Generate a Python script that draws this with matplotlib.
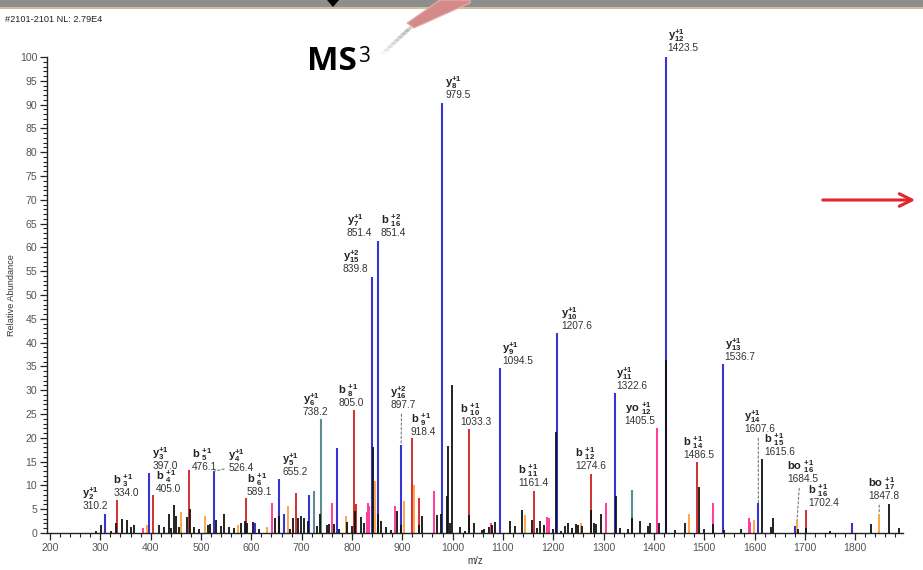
import numpy as np
import matplotlib
matplotlib.use('Agg')
import matplotlib.pyplot as plt
from matplotlib.ticker import MultipleLocator
from matplotlib.patches import Polygon, Rectangle

plt.rcParams['font.family'] = 'Liberation Sans'
plt.rcParams['mathtext.fontset'] = 'custom'
plt.rcParams['mathtext.rm'] = 'Liberation Sans'
plt.rcParams['mathtext.bf'] = 'Liberation Sans:bold'
plt.rcParams['mathtext.it'] = 'Liberation Sans:italic'

# spectrum peaks (m/z, relative abundance), grouped by colour
blue_mz = [310.2, 397.0, 526.4, 608, 655.2, 664, 715, 770, 839.8, 851.4, 897.7,
           979.5, 1094.5, 1207.6, 1322.6, 1423.5, 1536.7, 1607.6, 1680, 1793]
blue_int = [4.0, 12.6, 13.0, 2.2, 11.3, 3.9, 7.9, 17.9, 53.8, 61.4, 18.5,
            90.4, 34.7, 42.0, 29.4, 99.9, 35.5, 6.3, 1.5, 2.1]

red_mz = [334.0, 405.0, 476.1, 589.1, 689, 805.0, 808, 918.4, 933, 1033.3,
          1161.4, 1274.6, 1486.5, 1702.4]
red_int = [6.9, 8.0, 13.2, 7.4, 8.5, 25.8, 6.1, 20.0, 7.3, 21.8,
           8.8, 12.4, 15.0, 4.8]

pink_mz = [384, 642, 761, 829, 832, 834.5, 886, 963, 1076, 1188, 1191, 1305,
           1405.5, 1407, 1518, 1588, 1591]
pink_int = [1.1, 6.4, 6.4, 4.5, 6.2, 5.7, 5.6, 8.9, 2.1, 3.3, 3.1, 6.4,
            22.0, 6.1, 6.3, 3.1, 2.4]

orange_mz = [392, 460, 508, 574, 631, 672, 788, 846, 903, 923, 1144, 1255,
             1470, 1598, 1684.5, 1847.8]
orange_int = [1.7, 4.5, 3.5, 1.7, 1.2, 5.6, 3.5, 11.0, 6.8, 10.1, 3.8, 2.0,
              3.9, 2.7, 2.7, 4.0]

teal_mz = [725, 738.2, 1357]
teal_int = [8.8, 23.9, 9.0]

black_mz = [291, 301, 321, 332, 343, 352, 360, 367, 416, 426, 436, 441, 446, 451,
            456, 473, 479, 487, 497, 513, 518, 529, 539, 546, 556, 566, 579, 587,
            592, 603, 615, 648, 656, 677, 683, 692, 698, 705, 712, 730, 736, 750,
            755, 765, 775, 790, 800, 807, 817, 824, 842, 851, 858, 867, 877, 889,
            898, 934, 940, 968, 976, 988, 990, 994, 998, 1015, 1025, 1032, 1042,
            1058, 1062, 1072, 1078, 1085, 1114, 1124, 1138, 1158, 1167, 1174,
            1181, 1200, 1206, 1215, 1223, 1230, 1237, 1245, 1249, 1258, 1275,
            1280, 1285, 1295, 1325, 1332, 1348, 1357, 1372, 1388, 1392, 1410,
            1423.5, 1441, 1462, 1489, 1499, 1518, 1540, 1573, 1615.6, 1632, 1636,
            1687, 1702, 1750, 1832, 1867, 1887]
black_int = [0.5, 1.7, 0.5, 2.1, 2.9, 2.8, 1.3, 1.7, 1.7, 1.2, 3.9, 1.0, 5.8, 3.6,
             1.2, 3.3, 5.0, 1.2, 0.9, 1.7, 1.9, 2.7, 1.5, 3.9, 1.2, 1.1, 2.0, 2.5,
             2.0, 2.4, 0.9, 3.1, 3.6, 0.9, 3.1, 3.1, 3.6, 3.2, 2.6, 1.5, 3.9, 1.7,
             1.9, 1.8, 0.9, 2.4, 1.5, 4.7, 3.3, 2.2, 18.0, 4.0, 2.6, 1.2, 0.7, 4.7,
             1.7, 1.7, 3.6, 3.8, 4.0, 7.8, 18.3, 2.2, 31.0, 1.3, 0.5, 3.8, 2.2,
             0.6, 0.8, 1.2, 1.7, 2.4, 2.5, 1.5, 4.8, 2.7, 1.1, 2.6,
             1.7, 0.8, 21.3, 0.4, 1.5, 2.0, 1.0, 1.9, 1.7, 1.5, 4.9,
             2.2, 1.9, 4.0, 7.7, 1.0, 0.8, 3.2, 2.6, 1.5, 2.2, 2.0,
             36.3, 0.7, 2.0, 9.6, 0.8, 1.8, 0.7, 0.8, 15.5, 1.2, 3.1,
             0.9, 1.0, 0.5, 1.8, 6.1, 1.0]

# annotated fragment ions: m/z, abundance, ion, index, charge
ion_mz = [310.2, 334.0, 397.0, 405.0, 476.1, 526.4, 589.1, 655.2, 738.2, 805.0,
          839.8, 851.4, 851.4, 897.7, 918.4, 979.5, 1033.3, 1094.5, 1161.4,
          1207.6, 1274.6, 1322.6, 1405.5, 1423.5, 1486.5, 1536.7, 1607.6,
          1615.6, 1684.5, 1702.4, 1847.8]
ion_int = [4.0, 6.9, 12.6, 8.0, 13.2, 13.0, 7.4, 11.3, 23.9, 25.8,
           53.8, 61.4, 61.4, 18.5, 20.0, 90.4, 21.8, 34.7, 8.8,
           42.0, 12.4, 29.4, 22.0, 99.9, 15.0, 35.5, 6.3,
           15.5, 2.7, 4.8, 4.0]
ion_type = ['y', 'b', 'y', 'b', 'b', 'y', 'b', 'y', 'y', 'b',
            'y', 'y', 'b', 'y', 'b', 'y', 'b', 'y', 'b',
            'y', 'b', 'y', 'yo', 'y', 'b', 'y', 'y',
            'b', 'bo', 'b', 'bo']
ion_num = [2, 3, 3, 4, 5, 4, 6, 5, 6, 8,
           15, 7, 16, 16, 9, 8, 10, 9, 11,
           10, 12, 11, 12, 12, 14, 13, 14,
           15, 16, 16, 17]
ion_charge = ['+1', '+1', '+1', '+1', '+1', '+1', '+1', '+1', '+1', '+1',
              '+2', '+1', '+2', '+2', '+1', '+1', '+1', '+1', '+1',
              '+1', '+1', '+1', '+1', '+1', '+1', '+1', '+1',
              '+1', '+1', '+1', '+1']

# label placement (pixels from the peak top) and leader lines
lab_dx = [-23, -4, 3, 3, 3, 14, 1, 3, -18, -16,
          -29, -31, 3, -11, -1, 3, -9, 2, -16,
          4, -16, 1, -32, 2, -14, 2, -14,
          2, -10, 2, -11]
lab_dy = [3, 2, 2, 1, -2, -2, 1, 2, 2, 2,
          3, 3, 3, 35, 1, 3, 2, 2, 3,
          2, 3, 2, 2, 4, 2, 2, 69,
          2, 36, 2, 13]
leader = {5: (0, 0.5), 13: (0.45, 0), 26: (0.45, 0), 28: (0.4, 0), 30: (0.35, 0)}

BLUE = '#3535d4'
RED = '#d23030'
PINK = '#ff3c98'
ORANGE = '#ffa54a'
TEAL = '#5e8c8c'
BLACK = '#111111'

fig = plt.figure(figsize=(9.23, 5.70), dpi=100)
ax = fig.add_axes([47/923, 1-533/570, (903-47)/923, (533-57)/570])

ax.vlines(blue_mz, 0, blue_int, colors=BLUE, lw=1.5, zorder=2)
ax.vlines(red_mz, 0, red_int, colors=RED, lw=1.4, zorder=2)
ax.vlines(pink_mz, 0, pink_int, colors=PINK, lw=1.4, zorder=2)
ax.vlines(orange_mz, 0, orange_int, colors=ORANGE, lw=1.4, zorder=2)
ax.vlines(teal_mz, 0, teal_int, colors=TEAL, lw=1.5, zorder=2)
ax.vlines(black_mz, 0, black_int, colors=BLACK, lw=1.3, zorder=3)

ax.set_xlim(194, 1895)
ax.set_ylim(0, 100)
for s in ['top', 'right']:
    ax.spines[s].set_visible(False)
for s in ['left', 'bottom']:
    ax.spines[s].set_linewidth(1.0)
    ax.spines[s].set_color('#222222')

ax.xaxis.set_major_locator(MultipleLocator(100))
ax.xaxis.set_minor_locator(MultipleLocator(20))
ax.yaxis.set_major_locator(MultipleLocator(5))
ax.yaxis.set_minor_locator(MultipleLocator(1))
ax.set_xticks(np.arange(200, 1900, 100))
ax.tick_params(which='major', length=5, width=0.9, color='#222222',
               labelsize=7.6, labelcolor='#555555', pad=2)
ax.tick_params(which='minor', length=3, width=0.8, color='#222222')

ax.set_xlabel('m/z', fontsize=7, color='#333333', labelpad=2)
ax.set_ylabel('Relative Abundance', fontsize=6.6, color='#333333', labelpad=3)

def ion_tex(t, n, c):
    if t == 'y':
        return r'$\mathbf{y}_{\mathbf{%d}}^{\mathbf{%s}}$' % (n, c)
    return r'$\mathbf{%s}\ {}_{\mathbf{%d}}^{\mathbf{%s}}$' % (t, n, c)

for i in range(len(ion_mz)):
    x, y = ion_mz[i], ion_int[i]
    dx, dy = lab_dx[i], lab_dy[i]
    if i in leader:
        ax.annotate('%.1f' % x, xy=(x, y), xytext=(dx, dy),
                    textcoords='offset pixels', ha='left', va='bottom',
                    fontsize=7.3, color='#333333', zorder=5,
                    arrowprops=dict(arrowstyle='-', color='#777777', lw=0.8,
                                    ls=(0, (2, 2)), shrinkA=1, shrinkB=0,
                                    relpos=leader[i]))
    else:
        ax.annotate('%.1f' % x, xy=(x, y), xytext=(dx, dy),
                    textcoords='offset pixels', ha='left', va='bottom',
                    fontsize=7.3, color='#333333', zorder=5)
    ax.annotate(ion_tex(ion_type[i], ion_num[i], ion_charge[i]), xy=(x, y),
                xytext=(dx, dy + 9), textcoords='offset pixels',
                ha='left', va='bottom', fontsize=8, color='#222222', zorder=5)

# slide decorations around the spectrum
ov = fig.add_axes([0, 0, 1, 1], zorder=10)
ov.set_xlim(0, 923)
ov.set_ylim(570, 0)
ov.axis('off')
ov.add_patch(Rectangle((0, 0), 923, 7, color='#8e8e8e', lw=0))
ov.add_patch(Rectangle((0, 6.5), 923, 2, color='#cdbf9c', lw=0))
ov.add_patch(Polygon([(327, 0), (339, 0), (333, 7)], closed=True, color='black', lw=0))
for k in range(8):
    ov.add_patch(Polygon([(410 - k * 3.4, 26 + k * 3.2), (414 - k * 3.4, 27 + k * 3.2),
                          (411 - k * 3.4 - 3.4, 29 + k * 3.2 + 3.2),
                          (407 - k * 3.4 - 3.4, 28 + k * 3.2 + 3.2)],
                         closed=True, color='#9a9a9a', alpha=0.45 - k * 0.05, lw=0))
ov.add_patch(Polygon([(440, 0), (470, 0), (470, 3), (414, 28), (407, 23)],
                     closed=True, facecolor='#d48a8a', edgecolor='#e8b0b0', lw=0.8))
ov.text(307, 70, 'MS', fontsize=24, fontweight='bold', family='Open Sans',
        color='black', ha='left', va='baseline')
ov.text(358, 62, '3', fontsize=15, family='Open Sans', color='black',
        ha='left', va='baseline')
ov.text(5, 22, '#2101-2101 NL: 2.79E4', fontsize=6.6, color='#222222',
        ha='left', va='baseline')
ov.annotate('', xy=(918, 200), xytext=(820, 200),
            arrowprops=dict(arrowstyle='->,head_length=0.9,head_width=0.45',
                            color='#e3242b', lw=2.2))

fig.savefig('out.png', dpi=100)
